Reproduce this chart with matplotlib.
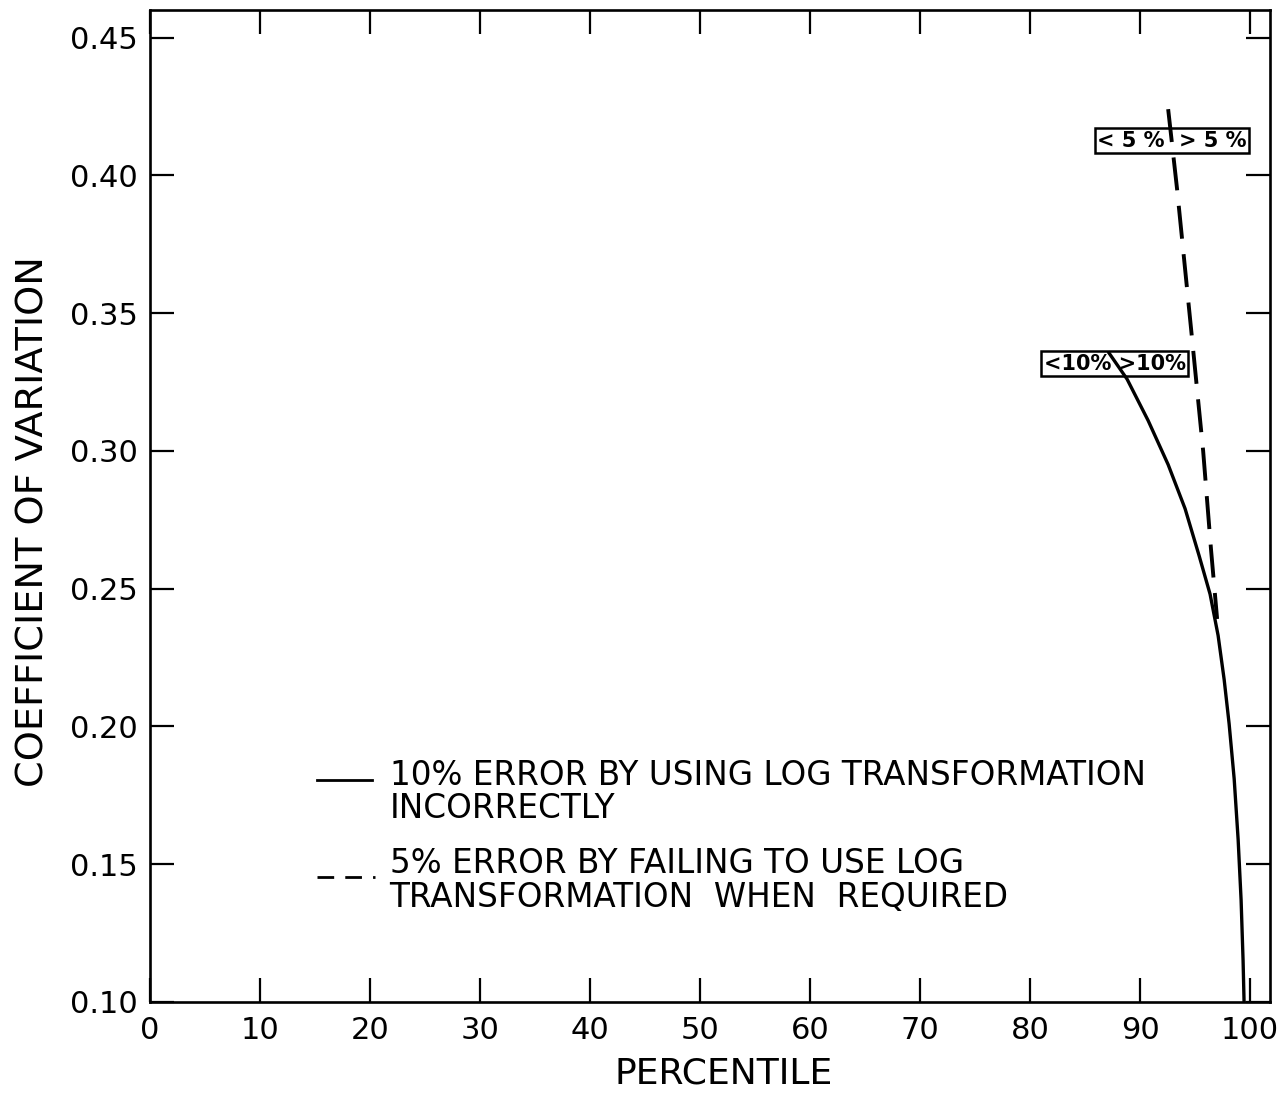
import matplotlib
matplotlib.use("Agg")
import matplotlib.pyplot as plt
from matplotlib.lines import Line2D

plt.rcParams["font.family"] = ["DejaVu Sans"]

# Percentile at which the log-transformation error reaches the threshold,
# as a function of the coefficient of variation.
solid_pct = [87.09, 88.82, 90.73, 92.55, 94.09, 95.36, 96.36, 97.09,
             97.64, 98.09, 98.55, 98.91, 99.18, 99.36, 99.45]
solid_cv = [0.336, 0.326, 0.311, 0.295, 0.279, 0.262, 0.248, 0.233,
            0.217, 0.201, 0.181, 0.159, 0.137, 0.115, 0.100]

dashed_pct = [92.55, 93.36, 94.64, 95.73, 96.45, 97.0]
dashed_cv = [0.424, 0.395, 0.344, 0.300, 0.264, 0.239]

x_ticks = [0, 10, 20, 30, 40, 50, 60, 70, 80, 90, 100]
y_ticks = [0.10, 0.15, 0.20, 0.25, 0.30, 0.35, 0.40, 0.45]
y_tick_labels = ["0.10", "0.15", "0.20", "0.25", "0.30", "0.35", "0.40", "0.45"]

legend_solid = ["10% ERROR BY USING LOG TRANSFORMATION", "INCORRECTLY"]
legend_dashed = ["5% ERROR BY FAILING TO USE LOG", "TRANSFORMATION  WHEN  REQUIRED"]

# Region tags along each curve: (label, x, y)
tag_5 = ("< 5 %  > 5 %", 92.9, 0.4126)
tag_10 = ("<10% >10%", 87.7, 0.3317)

fig = plt.figure(figsize=(12.86, 10.94), dpi=100)
ax = fig.add_axes([0.1166, 0.0841, 0.8709, 0.9068])

ax.set_xlim(0, 101.8)
ax.set_ylim(0.10, 0.46)

lw_curve = 2.4
ax.plot(solid_pct, solid_cv, color="black", lw=lw_curve, zorder=4,
        solid_capstyle="butt", solid_joinstyle="round")
ax.plot(dashed_pct, dashed_cv, color="black", lw=lw_curve + 0.4, zorder=4,
        linestyle=(0, (8.5, 4.0)), dash_capstyle="butt")

for label, x, y in (tag_5, tag_10):
    ax.text(x, y, label, ha="center", va="center", fontsize=15,
            fontweight="bold", zorder=3,
            bbox=dict(boxstyle="square,pad=0.12", facecolor="white",
                      edgecolor="black", linewidth=1.8))

# Axes frame and ticks
for s in ax.spines.values():
    s.set_linewidth(1.9)
ax.set_xticks(x_ticks)
ax.set_xticklabels([str(v) for v in x_ticks])
ax.set_yticks(y_ticks)
ax.set_yticklabels(y_tick_labels)
ax.tick_params(axis="both", which="major", direction="in", length=17,
               width=1.6, top=True, right=True, labelsize=22, color="black")
ax.tick_params(axis="x", pad=10)
ax.tick_params(axis="y", pad=9)

ax.set_xlabel("PERCENTILE", fontsize=26)
ax.xaxis.label.set_va("center")
ax.xaxis.set_label_coords(0.5125, -0.0716)
ax.set_ylabel("COEFFICIENT OF VARIATION", fontsize=27.5)
ax.yaxis.label.set_va("center")
ax.yaxis.set_label_coords(-0.104, 0.484)

# Key
ax.add_line(Line2D([0.149, 0.198], [0.2238, 0.2238], transform=ax.transAxes,
                   color="black", lw=2.0))
ax.add_line(Line2D([0.149, 0.201], [0.126, 0.126], transform=ax.transAxes,
                   color="black", lw=2.0, linestyle=(0, (6, 4))))
text_x = 0.214
for txt, y in zip(legend_solid, [0.2188, 0.1855]):
    ax.text(text_x, y, txt, transform=ax.transAxes, fontsize=23.5,
            ha="left", va="baseline")
for txt, y in zip(legend_dashed, [0.130, 0.0958]):
    ax.text(text_x, y, txt, transform=ax.transAxes, fontsize=23.5,
            ha="left", va="baseline")

fig.savefig("out.png", dpi=100, facecolor="white")
